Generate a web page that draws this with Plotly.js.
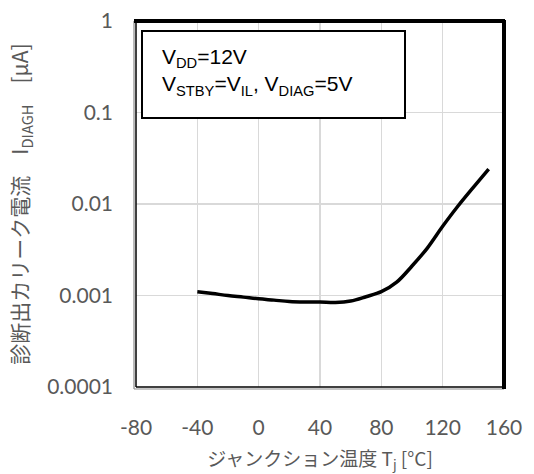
<!DOCTYPE html>
<html>
<head>
<meta charset="utf-8">
<script src="https://cdn.plot.ly/plotly-3.0.1.min.js"></script>
<style>html,body{margin:0;padding:0;background:#fff;}#chart{width:534px;height:474px;}</style>
</head>
<body>
<div id="chart"></div>
<script>
// Junction temperature (°C)
var temperature = [-40, -30, -20, -10, 0, 10, 20, 30, 40, 50, 60, 70, 80, 90, 100, 110, 120, 130, 140, 150];
// Diagnostic output leakage current I_DIAGH (µA)
var leakage = [0.00110, 0.00105, 0.00100, 0.00096, 0.00092, 0.00089, 0.00086, 0.00085, 0.00085, 0.00084, 0.00087, 0.00097, 0.00110, 0.00140, 0.0021, 0.0033, 0.0057, 0.0095, 0.0152, 0.0241];
var xTicks = [-80, -40, 0, 40, 80, 120, 160];
var xTickText = ["-80", "-40", "0", "40", "80", "120", "160"];
var yTicks = [0.0001, 0.001, 0.01, 0.1, 1];
var yTickText = ["0.0001", "0.001", "0.01", "0.1", "1"];
var xTitle = "ジャンクション温度 T<sub>j</sub> [°C]";
var yTitle = "診断出カリーク電流　I<sub>DIAGH</sub>　[μA]";
var conditionText = "V<sub>DD</sub>=12V<br>V<sub>STBY</sub>=V<sub>IL</sub>, V<sub>DIAG</sub>=5V";

var W = 534, H = 474;
var ml = 136, mr = 30, mt = 21, mb = 87;
var pw = W - ml - mr, ph = H - mt - mb;
var px = 1 / pw, py = 1 / ph;

var trace = {
  x: temperature, y: leakage, type: 'scatter', mode: 'lines',
  line: {color: '#000000', width: 3.5, shape: 'spline', smoothing: 1},
  hoverinfo: 'skip'
};

var tickFont = {family: 'Lato, "Open Sans", sans-serif', size: 21, color: '#595959'};

var layout = {
  width: W, height: H,
  margin: {l: ml, r: mr, t: mt, b: mb, pad: 0},
  paper_bgcolor: '#ffffff', plot_bgcolor: '#ffffff',
  showlegend: false,
  font: {family: '"Noto Sans CJK JP", Lato, sans-serif', color: '#595959'},
  xaxis: {
    range: [-80, 160], tickvals: xTicks, ticktext: xTickText, ticks: '', showline: false,
    showgrid: true, gridcolor: '#d9d9d9', gridwidth: 1.5, zeroline: false,
    tickfont: tickFont, ticklabelstandoff: 26,
    title: {text: xTitle, font: {family: '"Noto Sans CJK JP", sans-serif', size: 19, color: '#595959'}, standoff: 16}
  },
  yaxis: {
    type: 'log', range: [-4, 0], tickvals: yTicks, ticktext: yTickText, ticks: '',
    showline: false, showgrid: true, gridcolor: '#d9d9d9', gridwidth: 1.5, zeroline: false,
    tickfont: tickFont, ticklabelstandoff: 22,
    title: {text: yTitle, font: {family: '"Noto Sans CJK JP", sans-serif', size: 21, color: '#595959'}, standoff: 12}
  },
  shapes: [
    {type: 'line', xref: 'paper', yref: 'paper', x0: -2*px, x1: -2*px, y0: -2*py, y1: 1, line: {color: '#8c8c8c', width: 1.2}},
    {type: 'line', xref: 'paper', yref: 'paper', x0: -2*px, x1: 1, y0: -2*py, y1: -2*py, line: {color: '#8c8c8c', width: 1.2}},
    {type: 'line', xref: 'paper', yref: 'paper', x0: 0, x1: 0, y0: 0, y1: 1, line: {color: '#000000', width: 1.5}},
    {type: 'line', xref: 'paper', yref: 'paper', x0: 0, x1: 1, y0: 0, y1: 0, line: {color: '#000000', width: 1.5}},
    {type: 'line', xref: 'paper', yref: 'paper', x0: -2*px, x1: 1 + 1*px, y0: 1, y1: 1, line: {color: '#000000', width: 4}},
    {type: 'line', xref: 'paper', yref: 'paper', x0: 1, x1: 1, y0: -2*py, y1: 1 + 1*py, line: {color: '#000000', width: 4}},
    {type: 'rect', xref: 'paper', yref: 'paper', x0: (142 - ml)*px, x1: (405 - ml)*px,
     y0: 1 - (118 - mt)*py, y1: 1 - (31 - mt)*py, line: {color: '#000000', width: 2}, fillcolor: '#ffffff'}
  ],
  annotations: [
    {xref: 'paper', yref: 'paper', x: (160 - ml)*px, y: 1 - (43 - mt)*py, xanchor: 'left', yanchor: 'top',
     align: 'left', showarrow: false, text: conditionText,
     font: {family: '"Liberation Sans", Arial, sans-serif', size: 21, color: '#000000'}}
  ]
};

Plotly.newPlot('chart', [trace], layout, {displayModeBar: false, staticPlot: true});
</script>
</body>
</html>
